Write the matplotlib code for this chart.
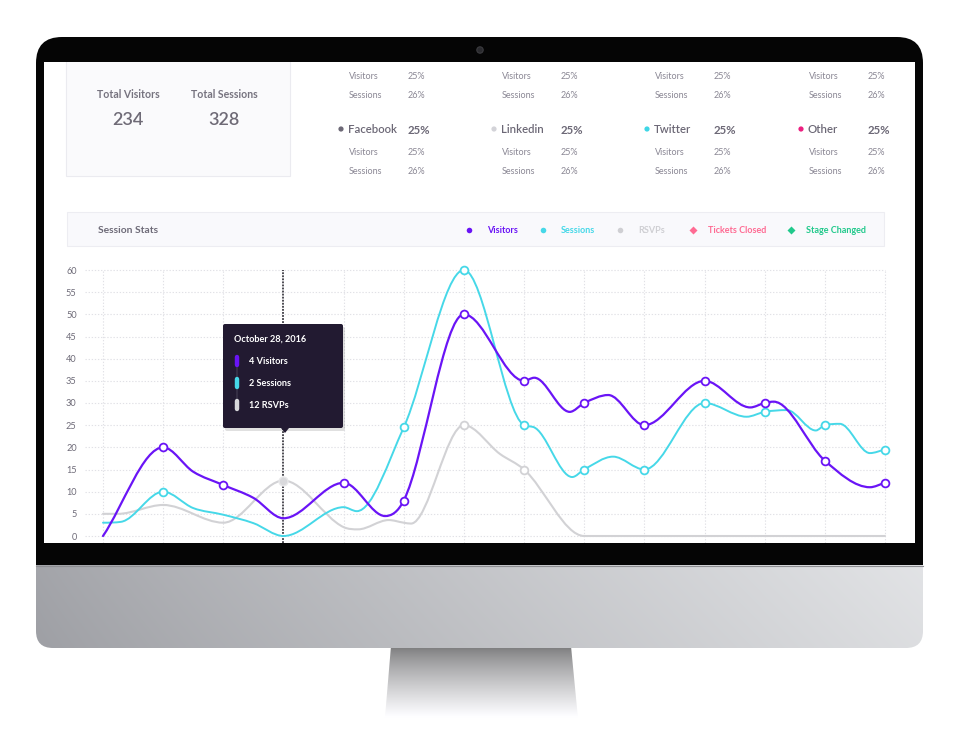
import numpy as np
import matplotlib
matplotlib.use("Agg")
import matplotlib.pyplot as plt
from matplotlib.patches import Rectangle, FancyBboxPatch, Polygon, Circle, PathPatch
from matplotlib.path import Path

plt.rcParams['font.family'] = ['Lato', 'DejaVu Sans']

# ---- data -------------------------------------------------------------
days = list(range(14))
visitors = [0, 20, 11.5, 4, 12, 8, 50, 35, 30, 25, 35, 30, 17, 12]
sessions = [3, 10, 4.8, 0, 6.5, 24.5, 60, 25, 15, 15, 30, 28, 25, 19.5]
rsvps = [5, 7, 3, 12.5, 2, 3, 25, 15, 0, 0, 0, 0, 0, 0]

# extra bends of the drawn curves between the days
visitors_bends = [(1.5, 14.5), (2.5, 8.6), (4.69, 4.5), (7.17, 35.7), (7.76, 28.0),
                  (8.4, 31.8), (10.76, 29.0), (11.15, 30.3), (12.75, 11.0)]
sessions_bends = [(0.3, 3.2), (1.5, 6.3), (2.5, 2.9), (4.22, 5.6), (7.15, 24.6), (7.8, 13.3),
                  (8.48, 17.9), (10.7, 26.9), (11.37, 28.4), (11.85, 23.8), (12.25, 25.3),
                  (12.75, 18.7)]
rsvps_bends = [(0.25, 5.0), (4.24, 1.5), (4.75, 3.6), (5.12, 2.8), (6.6, 18.5)]

visitor_marks = [1, 2, 4, 5, 6, 7, 8, 9, 10, 11, 12, 13]
session_marks = [1, 5, 6, 7, 8, 9, 10, 11, 12, 13]
rsvp_marks = [6, 7]
hover_day = 3
yticks = list(range(0, 61, 5))

total_labels = ['Total Visitors', 'Total Sessions']
total_values = ['234', '328']
sources = ['Facebook', 'Linkedin', 'Twitter', 'Other']
source_share = ['25%', '25%', '25%', '25%']
source_visitors = ['25%', '25%', '25%', '25%']
source_sessions = ['26%', '26%', '26%', '26%']
source_colors = ['#6c6876', '#d3d3d8', '#3fd6e6', '#ec1f80']

legend_names = ['Visitors', 'Sessions', 'RSVPs', 'Tickets Closed', 'Stage Changed']
legend_colors = ['#6a14f6', '#46d8e8', '#cfcfd3', '#ff6b93', '#20c98b']
legend_marks = ['o', 'o', 'o', 'D', 'D']

tooltip_title = 'October 28, 2016'
tooltip_rows = ['4 Visitors', '2 Sessions', '12 RSVPs']

PURPLE = '#6a14f6'
CYAN = '#46d8e8'
GREY = '#d2d2d5'
TEXT = '#8a8794'
DARK = '#6c6876'

X_PX = 60.15
Y_PX = 266 / 60.0


def monotone_path(xs, ys, flat_start=False):
    # monotone cubic through the knots, written as bezier segments
    order = np.argsort(xs)
    x = np.asarray(xs, float)[order]
    y = np.asarray(ys, float)[order]
    n = len(x)
    dx = np.diff(x)
    d = np.diff(y) / dx
    m = np.zeros(n)
    m[0] = 0 if flat_start else d[0]
    m[-1] = d[-1]
    for k in range(1, n - 1):
        m[k] = 0 if d[k - 1] * d[k] <= 0 else (d[k - 1] + d[k]) / 2
    for k in range(n - 1):
        if d[k] == 0:
            m[k] = m[k + 1] = 0
            continue
        a = m[k] / d[k]
        b = m[k + 1] / d[k]
        s = a * a + b * b
        if s > 9:
            t = 3 / np.sqrt(s)
            m[k] = t * a * d[k]
            m[k + 1] = t * b * d[k]
    verts = [(x[0], y[0])]
    for k in range(n - 1):
        h = dx[k] / 3
        verts += [(x[k] + h, y[k] + m[k] * h), (x[k + 1] - h, y[k + 1] - m[k + 1] * h),
                  (x[k + 1], y[k + 1])]
    codes = [Path.MOVETO] + [Path.CURVE4] * (3 * (n - 1))
    return Path(verts, codes)


fig = plt.figure(figsize=(9.6, 7.29), dpi=100)
fig.patch.set_facecolor('white')

# ---- monitor (pixel coords) --------------------------------------------
ax_bg = fig.add_axes([0, 0, 1, 1])
ax_bg.set_xlim(0, 960)
ax_bg.set_ylim(729, 0)
ax_bg.axis('off')

# stand
stand = Polygon([(391, 646), (571, 646), (579, 729), (384, 729)], closed=True,
                fc='none', ec='none', transform=ax_bg.transData)
g = np.linspace(0, 1, 200)[:, None]
stand_img = np.clip(0.47 + 0.6 * g ** 0.8, 0, 1)
stand_rgb = np.dstack([stand_img, stand_img, stand_img * 1.01])
im = ax_bg.imshow(np.clip(np.repeat(stand_rgb, 4, axis=1), 0, 1), extent=(384, 579, 729, 646),
                  aspect='auto', zorder=1, interpolation='bilinear')
im.set_clip_path(stand)

# bezel
ax_bg.add_patch(FancyBboxPatch((36, 37), 887, 560, boxstyle='round,pad=0,rounding_size=26',
                               fc='#050505', ec='none', zorder=2))
# chin
chin_clip = FancyBboxPatch((36, 500), 887, 148, boxstyle='round,pad=0,rounding_size=17',
                           fc='none', ec='none', transform=ax_bg.transData)
gx = np.linspace(0, 1, 300)[None, :]
gy = np.linspace(0, 1, 60)[:, None]
left = np.array([0.64, 0.645, 0.665])
right = np.array([0.885, 0.89, 0.9])
chin = left[None, None, :] + (right - left)[None, None, :] * (gx[..., None] ** 0.9)
chin = chin - 0.02 * gy[..., None]
im2 = ax_bg.imshow(np.clip(chin, 0, 1), extent=(36, 923, 648, 565), aspect='auto',
                   zorder=3, interpolation='bilinear')
im2.set_clip_path(chin_clip)
ax_bg.plot([36, 923], [565.5, 565.5], color='#8d8e92', lw=0.8, zorder=4)

# camera
ax_bg.add_patch(Circle((480, 50), 3.2, fc='#2a2a2e', ec='#3c3c40', lw=0.8, zorder=4))

# screen
screen = Rectangle((44, 62), 871, 481, fc='white', ec='none', zorder=4)
ax_bg.add_patch(screen)

# ---- top stats ---------------------------------------------------------
card = Rectangle((66, 40), 224, 136, fc='#fafafc', ec='#ebebf0', lw=0.8, zorder=5)
ax_bg.add_patch(card)
card.set_clip_path(screen)
for cx, lab, val in zip([128, 224], total_labels, total_values):
    ax_bg.text(cx, 94, lab, ha='center', va='center', fontsize=7.6, fontweight='bold',
               color='#76737f', zorder=6)
    ax_bg.text(cx, 120, val, ha='center', va='center', fontsize=13, fontweight='semibold',
               color='#6e6a76', zorder=6)

col_x = [349, 502, 655, 809]
for i, x in enumerate(col_x):
    vx = x + 59
    for y, lab, val in [(76, 'Visitors', source_visitors[i]), (95, 'Sessions', source_sessions[i]),
                        (152, 'Visitors', source_visitors[i]), (171, 'Sessions', source_sessions[i])]:
        ax_bg.text(x, y, lab, ha='left', va='center', fontsize=6.5, color=TEXT, zorder=6)
        ax_bg.text(vx, y + 0.5, val, ha='left', va='center', fontsize=6.5, color=TEXT, zorder=6)
    ax_bg.add_patch(Circle((x - 8, 129), 2.6, fc=source_colors[i], ec='none', zorder=6))
    ax_bg.text(x - 1, 129, sources[i], ha='left', va='center', fontsize=8.2,
               fontweight='semibold', color=DARK, zorder=6)
    ax_bg.text(vx, 130, source_share[i], ha='left', va='center', fontsize=8.2,
               fontweight='bold', color=DARK, zorder=6)

# ---- session stats header ---------------------------------------------
ax_bg.add_patch(Rectangle((67, 212), 817, 34, fc='#f9f9fc', ec='#ededf2', lw=0.8, zorder=5))
ax_bg.text(98, 230, 'Session Stats', ha='left', va='center', fontsize=7.4, fontweight='bold',
           color='#6e6b78', zorder=6)
leg_x = [469, 543, 620, 693, 791]
for x, name, col, mk in zip(leg_x, legend_names, legend_colors, legend_marks):
    ax_bg.plot([x], [230], marker=mk, ms=4 if mk == 'o' else 4.2, color=col, mec='none', zorder=6)
    ax_bg.text(x + (18 if mk == 'o' else 15), 230, name, ha='left', va='center', fontsize=6.5,
               fontweight='bold', color=col, zorder=6)

# ---- line chart ---------------------------------------------------------
x0 = (85 - 103) / X_PX
x1 = (890 - 103) / X_PX
y0 = -(543 - 536) / Y_PX
y1 = 60 + (270 - 265) / Y_PX
ax = fig.add_axes([85 / 960, (729 - 543) / 729, 805 / 960, 278 / 729])
ax.set_facecolor('none')
ax.set_xlim(x0, x1)
ax.set_ylim(y0, y1)
for s in ax.spines.values():
    s.set_visible(False)
ax.set_xticks([])
ax.set_yticks(yticks)
ax.set_yticklabels([str(t) for t in yticks])
ax.tick_params(axis='y', length=0, pad=6, labelsize=6.6, labelcolor='#6e6b78')

grid_kw = dict(color='#e1e1e6', lw=0.8, linestyle=(0, (1.2, 1.6)), zorder=1)
ax.hlines(yticks, x0, 13, **grid_kw)
ax.vlines([d for d in days if d != hover_day], y0, 60, **grid_kw)
ax.vlines([hover_day], y0, 60, color='#1d1b24', lw=1.1, linestyle=(0, (1.2, 0.8)), zorder=2)

for data, bends, col, lw, marks, z, flat in [
        (rsvps, rsvps_bends, GREY, 1.5, rsvp_marks, 3, True),
        (sessions, sessions_bends, CYAN, 1.4, session_marks, 4, True),
        (visitors, visitors_bends, PURPLE, 1.6, visitor_marks, 5, False)]:
    kx = list(days) + [b[0] for b in bends]
    ky = list(data) + [b[1] for b in bends]
    ax.add_patch(PathPatch(monotone_path(kx, ky, flat_start=flat), fc='none', ec=col, lw=lw,
                           zorder=z, capstyle='round', joinstyle='round'))
    ax.plot([days[i] for i in marks], [data[i] for i in marks], ls='none', marker='o', ms=5.6,
            mfc='white', mec=col, mew=1.3, zorder=z + 0.5, clip_on=False)
ax.plot([hover_day], [rsvps[hover_day]], ls='none', marker='o', ms=6.4, mfc='#d9d9dc',
        mec='#e8e8ea', mew=1, zorder=3.5)

# ---- tooltip (overlay, pixel coords) -----------------------------------
ax_top = fig.add_axes([0, 0, 1, 1])
ax_top.set_xlim(0, 960)
ax_top.set_ylim(729, 0)
ax_top.axis('off')
ax_top.set_facecolor('none')
ax_top.add_patch(FancyBboxPatch((225, 327), 120, 104, boxstyle='round,pad=0,rounding_size=2',
                                fc='#000000', ec='none', alpha=0.12, zorder=1))
ax_top.add_patch(FancyBboxPatch((223, 324), 120, 104, boxstyle='round,pad=0,rounding_size=2',
                                fc='#221a31', ec='none', zorder=2))
ax_top.add_patch(Polygon([(281, 428), (289, 428), (285, 433)], closed=True, fc='#221a31',
                         ec='none', zorder=2))
ax_top.text(234, 339, tooltip_title, ha='left', va='center', fontsize=6.6, fontweight='bold',
            color='white', zorder=3)
ax_top.plot([237, 237], [356, 408], color='#3a3348', lw=1.2, zorder=3)
for y, col, lab in zip([361, 383, 405], [PURPLE, CYAN, '#d8d8dc'], tooltip_rows):
    ax_top.plot([237, 237], [y - 4, y + 4], color=col, lw=3.2, solid_capstyle='round', zorder=4)
    ax_top.text(249, y, lab, ha='left', va='center', fontsize=6.6, fontweight='bold',
                color='white', zorder=4)

fig.savefig('out.png', dpi=100)
